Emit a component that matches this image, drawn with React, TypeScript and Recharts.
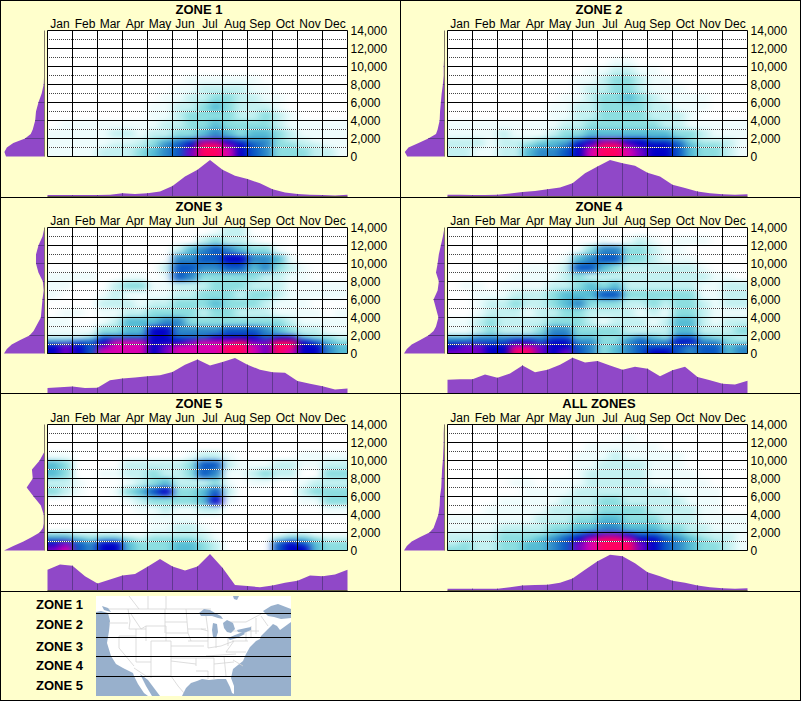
import React from 'react';
import { ScatterChart, Scatter, XAxis, YAxis, AreaChart, Area, ReferenceLine } from 'recharts';

const months = ['Jan','Feb','Mar','Apr','May','Jun','Jul','Aug','Sep','Oct','Nov','Dec'];
const monthCenters = [0.5,1.5,2.5,3.5,4.5,5.5,6.5,7.5,8.5,9.5,10.5,11.5];
const monthEdges = [0,1,2,3,4,5,6,7,8,9,10,11,12];
const innerEdges = [1,2,3,4,5,6,7,8,9,10,11];
const elevTicks = [0,2000,4000,6000,8000,10000,12000,14000];
const dottedElev = [1000,3000,5000,7000,9000,11000,13000];
const innerElevTicks = [2000,4000,6000,8000,10000,12000];
const halfMonths = [0,0.5,1,1.5,2,2.5,3,3.5,4,4.5,5,5.5,6,6.5,7,7.5,8,8.5,9,9.5,10,10.5,11,11.5,12];
const sideElev = [14000,13000,12000,11000,10000,9000,8000,7000,6000,5000,4000,3000,2500,2000,1500,1000,500,0];
// heat bands, top to bottom: [low, high]
const bands = [[13000,14000],[12000,13000],[11000,12000],[10000,11000],[9000,10000],[8000,9000],[7000,8000],[6000,7000],[5000,6000],[4000,5000],[3000,4000],[2000,3000],[1500,2000],[1000,1500],[500,1000],[0,500]];

const zone1Top = [4,4,4,4,4,5,9,7,9,14,29,55,73,100,73,57,48,36,20,11,7,5,4,3,5];
const zone2Top = [5,5,4,4,5,8,12,15,20,25,36,64,82,100,91,84,65,55,32,23,14,9,6,5,6];
const zone3Top = [15,17,19,15,16,36,41,44,47,50,59,79,93,77,86,97,79,65,58,57,34,27,20,11,14];
const zone4Top = [38,39,39,52,43,55,77,58,65,79,98,85,89,77,65,73,68,47,64,73,45,36,27,25,35];
const zone5Top = [57,71,68,39,19,30,41,45,65,86,66,55,66,100,62,15,12,9,14,21,27,41,39,44,57];
const allTop = [5,5,5,5,5,9,14,15,16,21,33,57,80,98,94,75,50,39,27,21,14,9,6,5,6];

const zone1Side = [0,0,0,0,0,1,2,7,15,21,23,29,34,48,77,93,99,95];
const zone2Side = [0,0,0,1,2,2,4,7,9,11,12,17,21,40,64,89,98,92];
const zone3Side = [0,5,15,21,21,15,4,2,5,7,9,21,27,37,60,81,93,100];
const zone4Side = [0,4,9,14,17,21,14,17,27,21,15,21,27,40,60,81,93,100];
const zone5Side = [0,0,0,0,12,31,29,44,27,9,2,2,4,12,31,52,77,100];
const allSide = [1,2,2,3,4,6,7,8,11,12,15,23,27,37,60,81,93,100];

const Z = [0,0,0,0,0,0,0,0,0,0,0,0,0,0,0,0,0,0,0,0,0,0,0,0];
const zone1Heat = [
  Z,Z,Z,Z,Z,
  [0,0,0,0,0,0,0,0,0,0,0,1,1,1,1,1,1,0,0,0,0,0,0,0],
  [0,0,0,0,0,0,0,0,0,0,1,1,2,2,2,2,1,1,0,0,0,0,0,0],
  [0,0,0,0,0,0,0,0,0,1,1,2,2,3,3,2,2,1,1,0,0,0,0,0],
  [0,0,0,0,0,0,0,0,1,1,2,2,3,4,3,2,2,2,1,0,0,0,0,0],
  [0,0,0,0,0,0,0,0,1,1,2,3,3,3,3,2,2,3,2,1,0,0,0,0],
  [0,1,1,1,1,1,1,1,1,2,2,3,3,4,3,3,3,3,2,1,1,1,1,1],
  [1,1,1,1,1,2,2,1,2,2,3,3,4,5,4,3,4,4,3,2,1,1,1,1],
  [1,1,1,1,1,1,1,2,3,4,5,6,8,8,7,6,5,5,3,2,2,1,1,1],
  [1,1,1,1,1,2,2,2,3,5,6,7,10,10,8,7,6,5,3,3,2,2,1,1],
  [1,1,1,1,2,2,2,3,4,5,6,8,10,10,9,7,6,5,3,3,3,2,2,1],
  [1,1,1,1,2,2,2,3,4,5,6,8,10,10,9,7,6,5,3,3,3,2,2,1],
];
const zone2Heat = [
  Z,Z,Z,
  [0,0,0,0,0,0,0,0,0,0,0,0,0,1,1,0,0,0,0,0,0,0,0,0],
  [0,0,0,0,0,0,0,0,0,0,0,1,1,2,2,1,1,0,0,0,0,0,0,0],
  [0,0,0,0,0,0,0,0,0,0,1,1,2,3,3,2,1,1,0,0,0,0,0,0],
  [0,0,0,0,0,0,0,0,0,0,1,2,2,3,3,2,1,1,1,0,0,0,0,0],
  [0,0,0,0,0,0,0,0,0,1,1,2,3,3,4,3,2,1,1,1,1,0,0,0],
  [0,0,0,0,0,0,0,0,1,1,2,2,3,3,3,3,2,2,1,1,1,0,0,0],
  [0,0,0,0,0,0,0,0,1,1,2,2,3,3,3,3,2,2,2,1,0,0,0,0],
  [1,1,1,1,1,1,1,1,1,2,2,3,3,3,3,3,3,2,2,1,1,1,1,1],
  [1,1,1,1,2,1,1,1,2,3,3,4,4,4,4,4,4,4,3,3,2,1,1,1],
  [2,2,2,1,2,2,2,3,4,4,6,7,8,8,7,7,6,6,5,3,2,2,2,1],
  [2,2,2,1,2,2,3,4,4,5,7,8,10,10,8,7,7,7,6,4,3,3,2,1],
  [2,2,1,1,2,2,4,5,5,6,7,9,10,10,9,8,7,7,6,4,3,3,2,1],
  [2,2,1,1,2,2,4,5,5,6,7,9,10,10,9,8,7,7,6,4,3,3,2,1],
];
const zone3Heat = [
  [0,0,0,0,0,0,0,0,0,0,0,0,0,1,2,2,0,0,0,0,0,0,0,0],
  [0,0,0,0,0,0,0,0,0,0,0,0,2,3,2,2,1,0,0,0,0,0,0,0],
  [0,0,0,0,0,0,0,0,0,0,2,4,5,6,5,4,3,3,1,0,0,0,0,0],
  [0,0,0,0,0,0,0,0,0,0,5,5,6,6,7,7,5,5,4,1,0,0,0,0],
  [0,0,0,0,0,0,0,0,0,2,6,6,5,5,6,6,4,5,3,2,1,0,0,0],
  [1,1,1,1,0,0,1,1,0,1,6,5,3,3,3,3,3,2,2,1,1,0,0,0],
  [1,1,0,0,0,2,3,3,1,1,2,2,2,3,3,3,2,2,2,1,1,1,1,1],
  [1,0,0,0,1,2,1,1,1,1,2,2,3,3,3,2,3,3,2,1,1,1,1,1],
  [0,0,0,0,2,2,2,1,2,2,3,3,3,4,3,3,3,2,1,1,1,0,0,0],
  [0,1,1,0,1,1,2,2,3,3,3,3,2,3,3,2,2,2,1,1,1,1,0,1],
  [1,1,0,0,1,2,4,4,4,5,5,3,3,3,3,3,3,3,3,2,1,1,1,1],
  [1,1,1,1,3,3,4,4,7,7,5,5,5,5,6,6,6,5,4,3,2,2,1,1],
  [2,2,2,3,6,6,6,6,7,7,6,6,6,7,7,7,7,6,7,7,4,3,3,2],
  [5,5,6,6,7,9,9,9,7,7,7,8,9,9,9,10,8,8,10,10,7,6,4,3],
  [7,8,7,6,8,9,9,9,7,8,9,9,9,9,10,10,9,8,10,10,7,7,5,4],
  [7,8,7,6,9,9,9,9,7,8,9,9,9,9,10,10,9,8,10,9,7,7,5,4],
];
const zone4Heat = [
  Z,
  [0,0,0,0,0,0,0,0,0,0,0,0,1,0,1,2,1,0,1,1,1,0,0,0],
  [0,0,0,0,0,0,0,0,0,0,1,3,5,5,3,3,2,1,1,0,0,0,0,0],
  [0,0,0,0,0,0,0,0,0,1,4,5,6,6,3,3,2,1,1,1,0,0,0,0],
  [0,0,0,0,0,0,1,1,1,2,6,6,4,3,2,2,2,2,2,2,1,0,0,0],
  [0,0,0,0,0,1,1,1,1,2,3,2,2,2,2,2,2,2,2,2,2,1,1,0],
  [0,1,1,0,1,1,1,1,2,2,3,4,3,4,2,2,2,2,2,2,1,1,2,2],
  [0,0,1,1,1,2,2,2,3,4,4,4,6,6,3,3,3,3,3,3,1,1,2,2],
  [0,0,1,2,2,3,2,2,3,4,5,3,3,3,2,2,3,2,3,3,2,1,2,2],
  [0,0,1,2,2,2,1,2,2,3,3,2,2,2,2,1,2,1,3,3,2,1,1,1],
  [1,1,2,3,2,2,2,2,3,3,3,2,1,2,2,2,1,2,4,4,2,1,2,2],
  [1,1,2,3,2,2,2,3,5,5,3,3,3,3,2,2,2,2,4,4,2,2,2,3],
  [4,4,5,5,5,5,5,5,6,6,4,4,3,3,4,5,4,3,6,6,4,3,3,2],
  [6,6,6,6,6,7,7,6,7,7,5,5,3,3,5,6,5,5,7,7,5,5,3,3],
  [7,8,8,7,7,9,9,8,7,7,6,5,3,4,5,6,6,6,6,5,6,6,4,5],
  [8,8,8,7,7,10,10,8,7,8,6,5,3,4,5,6,7,7,6,5,6,6,4,5],
];
const zone5Heat = [
  Z,Z,Z,
  [1,1,0,0,0,0,0,0,0,0,0,1,2,2,1,0,0,0,0,0,1,1,1,1],
  [4,3,0,0,0,0,2,2,2,2,2,3,6,6,2,1,1,1,2,2,1,1,2,2],
  [4,3,0,0,1,1,2,2,3,2,2,3,6,5,1,1,2,3,2,2,0,0,3,3],
  [2,2,1,0,0,0,1,2,3,4,2,2,2,3,1,0,1,1,0,0,1,2,2,2],
  [3,2,1,0,0,1,3,4,6,7,3,3,4,6,2,0,0,0,0,0,2,3,3,3],
  [0,0,0,0,0,0,1,2,3,3,3,3,4,7,1,0,0,0,0,0,1,1,3,3],
  [0,0,0,0,0,0,0,1,1,2,1,1,2,2,0,0,0,0,0,0,0,0,1,1],
  [0,0,0,0,0,0,0,0,1,1,1,1,0,0,0,0,0,0,0,0,0,0,0,0],
  [0,0,0,0,0,0,0,0,1,1,2,2,1,0,0,0,0,0,0,0,0,0,0,0],
  [3,3,2,2,2,2,1,1,2,2,2,2,2,1,0,0,0,0,1,2,2,1,1,1],
  [5,5,4,3,4,4,3,2,3,3,3,3,2,1,0,0,0,0,3,4,4,3,2,2],
  [7,8,6,5,7,7,4,3,3,3,4,4,3,2,0,0,0,0,6,7,6,4,3,3],
  [8,9,6,5,7,7,4,3,3,3,4,4,3,2,0,0,0,0,6,7,7,4,3,3],
];
const allHeat = [
  Z,
  [0,0,0,0,0,0,0,0,0,0,0,0,0,0,1,0,0,0,0,0,0,0,0,0],
  [0,0,0,0,0,0,0,0,0,0,0,1,1,1,1,1,1,0,0,0,0,0,0,0],
  [0,0,0,0,0,0,0,0,0,0,1,1,1,2,1,1,1,1,1,0,0,0,0,0],
  [0,0,0,0,0,0,0,0,0,0,1,1,2,2,2,2,1,1,1,0,0,0,0,0],
  [0,0,0,0,0,0,0,0,0,0,1,2,2,2,2,2,1,1,1,1,0,0,0,0],
  [0,0,0,0,0,1,1,0,1,1,1,2,2,2,2,2,1,1,1,1,1,0,0,0],
  [0,0,0,0,0,0,1,1,1,1,2,2,2,2,2,2,2,2,1,1,1,1,0,0],
  [0,0,0,0,1,1,1,1,1,2,2,2,3,3,2,2,2,2,2,1,1,1,0,0],
  [0,0,0,1,1,1,1,1,2,2,2,2,3,3,3,3,2,2,2,2,1,1,0,0],
  [1,1,1,1,1,1,1,2,2,2,3,3,4,4,3,3,3,2,2,2,1,1,1,1],
  [1,1,1,1,2,2,2,2,3,3,4,4,5,5,4,4,4,3,3,2,2,1,1,1],
  [2,2,2,2,3,3,3,3,4,5,6,7,8,8,7,6,6,5,4,3,2,2,2,1],
  [2,2,2,2,3,3,3,4,5,6,7,9,10,10,9,7,7,6,5,4,3,2,2,1],
  [2,3,2,2,3,3,4,4,5,6,8,9,10,10,10,8,7,6,5,4,3,3,2,1],
  [3,3,2,2,3,3,4,4,5,6,8,9,10,10,10,8,7,6,5,4,3,3,2,1],
];

const panels = [
  { title: 'ZONE 1', heat: zone1Heat, top: zone1Top, side: zone1Side, col: 0, row: 0 },
  { title: 'ZONE 2', heat: zone2Heat, top: zone2Top, side: zone2Side, col: 1, row: 0 },
  { title: 'ZONE 3', heat: zone3Heat, top: zone3Top, side: zone3Side, col: 0, row: 1 },
  { title: 'ZONE 4', heat: zone4Heat, top: zone4Top, side: zone4Side, col: 1, row: 1 },
  { title: 'ZONE 5', heat: zone5Heat, top: zone5Top, side: zone5Side, col: 0, row: 2 },
  { title: 'ALL ZONES', heat: allHeat, top: allTop, side: allSide, col: 1, row: 2 },
];

const legendZones = [
  { label: 'ZONE 1', y: 605 }, { label: 'ZONE 2', y: 625 }, { label: 'ZONE 3', y: 647 },
  { label: 'ZONE 4', y: 666 }, { label: 'ZONE 5', y: 686 },
];
const mapCuts = [17.5, 41.5, 60.5, 80.5];

const FONT = '"Liberation Sans", Arial, sans-serif';
const PURPLE = '#9048C8';
const PURPLE_DARK = '#603890';
const stops = ['#FFFFFF','#EEFCFC','#C4F1F1','#8CDEE0','#55BCD4','#2C88C8','#0858C4','#0000C8','#7000C8','#D800B0','#FF0060'];
const heatColor = (v: number) => stops[Math.max(0, Math.min(10, Math.round(v)))];

const PX_W = 300 / 12; // px per month
const PX_H = 126 / 14000; // px per foot
const PAD = 20;

function HeatCell(props: any) {
  const { cx, cy, payload } = props;
  const halfW = PX_W / 4 + 0.3;
  const h = (payload.high - payload.low) * PX_H;
  const left = payload.col === 0 ? PAD : 0;
  const right = payload.col === 23 ? PAD : 0;
  const topX = payload.high === 14000 ? PAD : 0;
  const botX = payload.low === 0 ? PAD : 0;
  return (
    <rect
      x={cx - halfW - left}
      y={cy - h / 2 - topX - 0.2}
      width={2 * halfW + left + right}
      height={h + topX + botX + 0.4}
      fill={heatColor(payload.v)}
      stroke="none"
    />
  );
}
const NoMark = () => null;

function Heat({ heat }: { heat: number[][] }) {
  const cells: any[] = [];
  heat.forEach((rowVals, r) => {
    rowVals.forEach((v, c) => {
      cells.push({ x: (c + 0.5) / 2, y: (bands[r][0] + bands[r][1]) / 2, low: bands[r][0], high: bands[r][1], col: c, v });
    });
  });
  return (
    <div style={{ position: 'absolute', left: 47, top: 30, width: 301, height: 127, overflow: 'hidden' }}>
      <div style={{ position: 'absolute', left: -PAD, top: -PAD, width: 341, height: 167, background: '#fff', filter: 'url(#heatBlur)' }}>
        <ScatterChart width={341} height={167} margin={{ left: 20.5, right: 20.5, top: 20.5, bottom: 20.5 }}>
          <XAxis type="number" dataKey="x" domain={[0, 12]} hide />
          <YAxis type="number" dataKey="y" domain={[0, 14000]} hide />
          <Scatter data={cells} shape={HeatCell} isAnimationActive={false} />
        </ScatterChart>
      </div>
    </div>
  );
}

function Grid() {
  return (
    <div style={{ position: 'absolute', left: 0, top: 0 }}>
      <ScatterChart width={400} height={197} margin={{ left: 47.5, right: 0, top: 0.5, bottom: 40.5 }}>
        <XAxis
          type="number" dataKey="x" orientation="top" xAxisId="m" domain={[0, 12]} ticks={monthCenters} interval={0}
          height={30} axisLine={false} tickLine={false} tickSize={0} tickMargin={3}
          tick={{ fill: '#000', fontSize: 12, fontFamily: FONT }}
          tickFormatter={(v: number) => months[Math.floor(v)]}
        />
        <YAxis
          type="number" dataKey="y" orientation="right" yAxisId="e" domain={[0, 14000]} ticks={elevTicks} interval={0}
          width={52.5} axisLine={false} tickLine={false} tickSize={0} tickMargin={3}
          tick={{ fill: '#000', fontSize: 12, fontFamily: FONT }}
          tickFormatter={(v: number) => v.toLocaleString('en-US')}
        />
        <Scatter xAxisId="m" yAxisId="e" data={[{ x: 0, y: 0 }]} shape={NoMark} isAnimationActive={false} />
        {dottedElev.map((e) => (
          <ReferenceLine key={`dw${e}`} xAxisId="m" yAxisId="e" y={e} stroke="#fff" strokeWidth={1} strokeDasharray="1 1" strokeDashoffset={1.5} />
        ))}
        {dottedElev.map((e) => (
          <ReferenceLine key={`dk${e}`} xAxisId="m" yAxisId="e" y={e} stroke="#444" strokeWidth={1} strokeDasharray="1 1" strokeDashoffset={0.5} />
        ))}
        {elevTicks.map((e) => (
          <ReferenceLine key={`h${e}`} xAxisId="m" yAxisId="e" y={e} stroke="#000" strokeWidth={1} />
        ))}
        {monthEdges.map((m) => (
          <ReferenceLine key={`v${m}`} xAxisId="m" yAxisId="e" x={m} stroke="#000" strokeWidth={1} />
        ))}
      </ScatterChart>
    </div>
  );
}

function TopProfile({ values }: { values: number[] }) {
  const data = halfMonths.map((x, i) => ({ x, v: values[i] }));
  return (
    <div style={{ position: 'absolute', left: 47, top: 160, width: 301, height: 37 }}>
      <AreaChart width={301} height={37} data={data} margin={{ left: 0.5, right: 0.5, top: 0, bottom: 0.5 }}>
        <XAxis type="number" dataKey="x" domain={[0, 12]} hide />
        <YAxis type="number" domain={[0, 100]} hide />
        <Area type="linear" dataKey="v" fill={PURPLE} fillOpacity={1} stroke="none" isAnimationActive={false} dot={false} />
        <ReferenceLine y={0} stroke="#605848" strokeWidth={1} />
        {innerEdges.map((m) => (
          <ReferenceLine key={m} stroke={PURPLE_DARK} strokeWidth={1} segment={[{ x: m, y: 0 }, { x: m, y: (data[m * 2].v) }]} />
        ))}
      </AreaChart>
    </div>
  );
}

function SideProfile({ values }: { values: number[] }) {
  const data = sideElev.map((e, i) => ({ e, v: values[i] }));
  return (
    <div style={{ position: 'absolute', left: 4, top: 30, width: 41, height: 127 }}>
      <AreaChart layout="vertical" width={41} height={127} data={data} margin={{ left: 0, right: 0.5, top: 0.5, bottom: 0.5 }}>
        <XAxis type="number" domain={[0, 100]} reversed hide />
        <YAxis type="number" dataKey="e" domain={[0, 14000]} reversed hide />
        <Area type="linear" dataKey="v" fill={PURPLE} fillOpacity={1} stroke="none" isAnimationActive={false} dot={false} />
        <ReferenceLine x={0} stroke="#807868" strokeWidth={1} />
        {innerElevTicks.map((e) => {
          const d = data.find((p) => p.e === e);
          return <ReferenceLine key={e} stroke={PURPLE_DARK} strokeWidth={1} segment={[{ x: 0, y: e }, { x: d ? d.v : 0, y: e }]} />;
        })}
      </AreaChart>
    </div>
  );
}

function Panel({ p }: { p: (typeof panels)[number] }) {
  return (
    <div style={{ position: 'absolute', left: p.col * 400, top: p.row * 197, width: 400, height: 197 }}>
      <div style={{ position: 'absolute', left: 99, width: 200, top: 2, textAlign: 'center', fontFamily: FONT, fontWeight: 700, fontSize: 13, lineHeight: '15px', color: '#000' }}>{p.title}</div>
      <SideProfile values={p.side} />
      <TopProfile values={p.top} />
      <Heat heat={p.heat} />
      <Grid />
    </div>
  );
}

const landPts = '0,0 0,16 5,15 12,17 14,25 13,35 11,47 15,60 20,68 27,72 37,77 38,80 42,88 48,97 52,100 56,100 50,90 46,82 44,78 52,84 58,92 64,100 86,100 90,92 95,87 101,85 106,83 113,84 122,83 130,83 134,91 136,97 138,98 138,90 135,82 137,73 147,65 150,58 154,51 160,45 164,43 165,40 172,33 177,28 181,30 184,34 195,26 195,22 185,23 178,21 172,20 167,15 175,10 182,8 195,13 195,0';
const waterShapes = [
  '103,17 108,13 114,14 119,17 125,20 127,23 122,22 116,20 110,20 105,20',
  '117,27 121,28 122,36 120,42 117,41 116,34',
  '127,27 131,24 137,27 139,33 135,37 131,36 128,32',
  '132,42 139,39 147,36 149,38 141,42 134,44',
  '141,34 150,32 155,31 155,34 148,37 142,36',
  '137,0 143,0 141,4 138,3',
  '6,10 12,12 15,16 8,14',
];
const borderLines = [
  '12,13 115,13', '52,0 52,13', '70,0 70,13', '33,0 43,13', '13,27 32,27', '32,13 34,25 33,33',
  '35,18 45,33 50,30', '33,33 50,33', '23,40 23,52 38,70', '23,40 40,40', '40,33 40,66', '40,66 55,66', '55,45 55,82',
  '50,30 70,30 70,45', '55,45 75,45 75,65', '50,30 50,45', '69,13 69,37', '69,26 91,26', '70,37 92,37', '90,13 92,37 95,45',
  '75,50 108,50', '75,62 100,62 100,70', '75,65 100,68', '38,72 50,80 55,80 75,80 82,90 88,97', '75,80 75,65',
  '92,33 110,33', '92,45 112,45', '100,62 118,62', '100,75 112,75 112,83', '118,62 118,83', '128,60 130,80', '110,60 140,58',
  '130,56 150,56', '112,52 125,50 138,45', '112,35 112,52', '120,42 120,52', '132,42 132,50', '136,35 150,35 150,45', '136,45 152,45',
  '155,30 155,42', '165,20 172,30', '137,64 147,70', '118,68 138,66', '160,22 160,38', '150,35 163,35', '110,20 112,35 105,33',
  '138,45 130,56', '130,26 150,26 165,18',
];

function MiniMap() {
  return (
    <svg width={195} height={100} style={{ position: 'absolute', left: 96, top: 596 }}>
      <rect x={0} y={0} width={195} height={100} fill="#98B0CC" />
      <polygon points={landPts} fill="#fff" />
      {borderLines.map((b, i) => <polyline key={i} points={b} fill="none" stroke="#D4D4D4" strokeWidth={0.8} />)}
      {waterShapes.map((w, i) => <polygon key={i} points={w} fill="#98B0CC" />)}
      {mapCuts.map((y) => <line key={y} x1={0} x2={195} y1={y} y2={y} stroke="#000" strokeWidth={1} />)}
    </svg>
  );
}

export default function App() {
  return (
    <div style={{ position: 'absolute', left: 0, top: 0, width: 801, height: 701, background: '#FFFFCC', overflow: 'hidden' }}>
      <svg width={0} height={0} style={{ position: 'absolute' }}>
        <filter id="heatBlur" colorInterpolationFilters="sRGB" x="-5%" y="-5%" width="110%" height="110%">
          <feGaussianBlur stdDeviation="4 2.4" />
        </filter>
      </svg>
      {panels.map((p) => <Panel key={p.title} p={p} />)}
      {legendZones.map((z) => (
        <div key={z.label} style={{ position: 'absolute', left: 36, top: z.y - 8, lineHeight: '15px', fontFamily: FONT, fontWeight: 700, fontSize: 13, color: '#000' }}>{z.label}</div>
      ))}
      <MiniMap />
      {/* panel frames */}
      <div style={{ position: 'absolute', left: 0, top: 0, width: 801, height: 1, background: '#000' }} />
      <div style={{ position: 'absolute', left: 0, top: 197, width: 801, height: 1, background: '#000' }} />
      <div style={{ position: 'absolute', left: 0, top: 393, width: 801, height: 1, background: '#000' }} />
      <div style={{ position: 'absolute', left: 0, top: 591, width: 801, height: 1, background: '#000' }} />
      <div style={{ position: 'absolute', left: 0, top: 700, width: 801, height: 1, background: '#000' }} />
      <div style={{ position: 'absolute', left: 0, top: 0, width: 1, height: 701, background: '#000' }} />
      <div style={{ position: 'absolute', left: 400, top: 0, width: 1, height: 591, background: '#000' }} />
      <div style={{ position: 'absolute', left: 800, top: 0, width: 1, height: 701, background: '#000' }} />
    </div>
  );
}
